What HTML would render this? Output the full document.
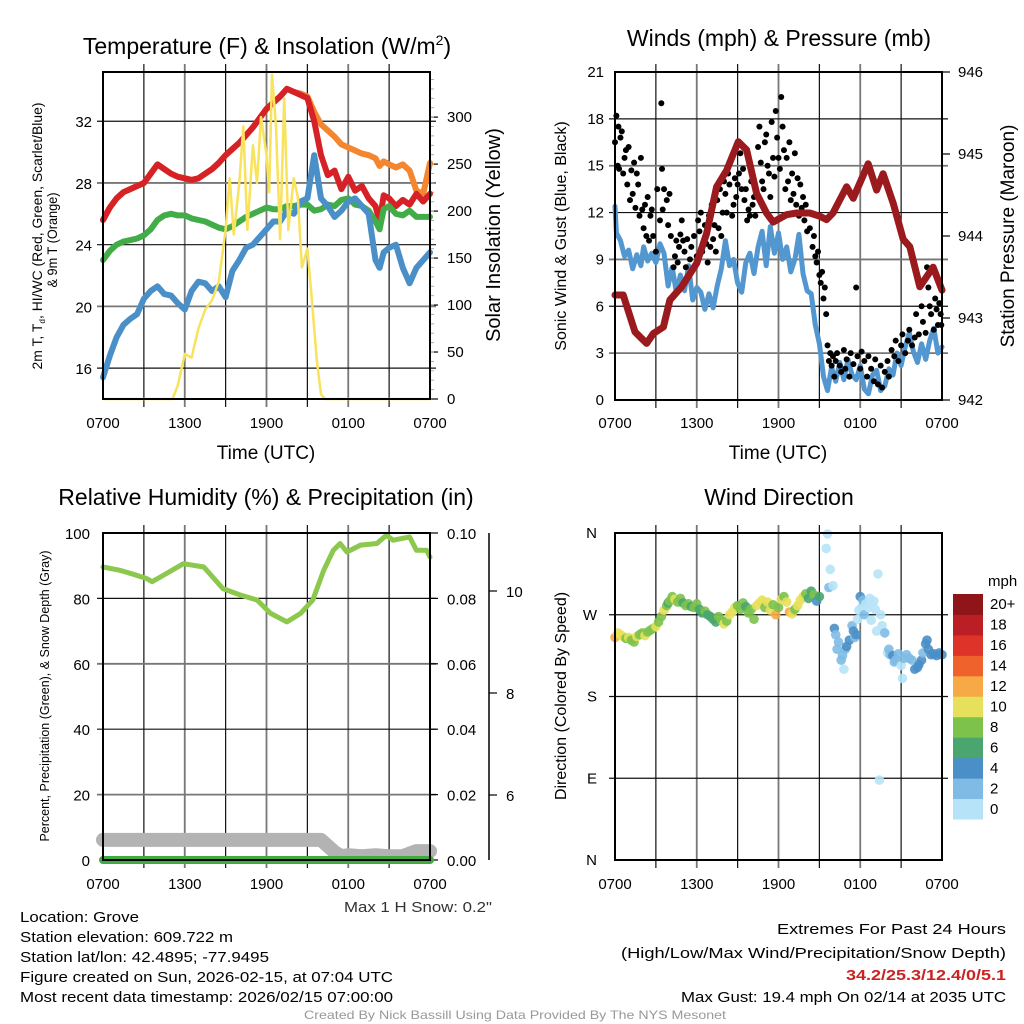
<!DOCTYPE html>
<html><head><meta charset="utf-8"><title>NYS Mesonet Meteogram - Grove</title>
<style>
html,body{margin:0;padding:0;background:#fff;}
svg{display:block;font-family:"Liberation Sans",sans-serif;}
.tk{font-size:15px;fill:#000;}
.nar{font-family:"Liberation Sans Narrow","Liberation Sans",sans-serif;}
</style></head>
<body>
<svg id="fig" width="1024" height="1024" viewBox="0 0 1024 1024" xmlns="http://www.w3.org/2000/svg">
<rect x="0" y="0" width="1024" height="1024" fill="#fff"/>
<text x="267" y="54" font-size="23" text-anchor="middle">Temperature (F) &amp; Insolation (W/m<tspan dy="-9" font-size="14">2</tspan><tspan dy="9">)</tspan></text>
<text x="779" y="46" font-size="23" text-anchor="middle">Winds (mph) &amp; Pressure (mb)</text>
<text x="266" y="505" font-size="23" text-anchor="middle">Relative Humidity (%) &amp; Precipitation (in)</text>
<text x="779" y="505" font-size="23" text-anchor="middle">Wind Direction</text>

<text x="266" y="459" font-size="19" text-anchor="middle">Time (UTC)</text>
<text x="778" y="459" font-size="19" text-anchor="middle">Time (UTC)</text>

<text transform="translate(42,236) rotate(-90)" font-size="13.5" text-anchor="middle" textLength="267" lengthAdjust="spacingAndGlyphs">2m T, T<tspan font-size="8" dy="3">d</tspan><tspan dy="-3">, HI/WC (Red, Green, Scarlet/Blue)</tspan></text>
<text transform="translate(57,240) rotate(-90)" font-size="13.5" text-anchor="middle" textLength="95" lengthAdjust="spacingAndGlyphs">&amp; 9m T (Orange)</text>
<text transform="translate(500,235) rotate(-90)" font-size="20" text-anchor="middle">Solar Insolation (Yellow)</text>
<text transform="translate(566,236) rotate(-90)" font-size="16" text-anchor="middle">Sonic Wind &amp; Gust (Blue, Black)</text>
<text transform="translate(1014,236) rotate(-90)" font-size="19" text-anchor="middle">Station Pressure (Maroon)</text>
<text transform="translate(49,696) rotate(-90)" font-size="12.5" text-anchor="middle">Percent, Precipitation (Green), &amp; Snow Depth (Gray)</text>
<text transform="translate(566,696) rotate(-90)" font-size="16" text-anchor="middle">Direction (Colored By Speed)</text>

<g class="nar" font-size="15">
<text x="492" y="912" text-anchor="end" textLength="148" lengthAdjust="spacingAndGlyphs" fill="#333">Max 1 H Snow: 0.2"</text>
<text x="20" y="922" textLength="119" lengthAdjust="spacingAndGlyphs">Location: Grove</text>
<text x="20" y="942" textLength="213" lengthAdjust="spacingAndGlyphs">Station elevation: 609.722 m</text>
<text x="20" y="962" textLength="249" lengthAdjust="spacingAndGlyphs">Station lat/lon: 42.4895; -77.9495</text>
<text x="20" y="982" textLength="373" lengthAdjust="spacingAndGlyphs">Figure created on Sun, 2026-02-15, at 07:04 UTC</text>
<text x="20" y="1002" textLength="373" lengthAdjust="spacingAndGlyphs">Most recent data timestamp: 2026/02/15 07:00:00</text>
<text x="1006" y="934" text-anchor="end" textLength="229" lengthAdjust="spacingAndGlyphs">Extremes For Past 24 Hours</text>
<text x="1006" y="958" text-anchor="end" textLength="385" lengthAdjust="spacingAndGlyphs">(High/Low/Max Wind/Precipitation/Snow Depth)</text>
<text x="1006" y="980" text-anchor="end" textLength="160" lengthAdjust="spacingAndGlyphs" fill="#cc2222" font-weight="bold">34.2/25.3/12.4/0/5.1</text>
<text x="1006" y="1002" text-anchor="end" textLength="325" lengthAdjust="spacingAndGlyphs">Max Gust: 19.4 mph On 02/14 at 2035 UTC</text>
<text x="515" y="1019" font-size="12" text-anchor="middle" textLength="422" lengthAdjust="spacingAndGlyphs" fill="#999">Created By Nick Bassill Using Data Provided By The NYS Mesonet</text>
</g>
<g id="plots"></g>
</svg>
<script>
// ---------- data ----------
const timeLabels = ["0700","1300","1900","0100","0700"];
const tempHours = [0,0.5,1,1.5,2,2.5,3,3.5,4,4.5,5,5.5,6,6.5,7,7.5,8,8.5,9,9.5,10,10.5,11,11.5,12,12.5,13,13.5,14,14.5,15,15.5,16,16.5,17,17.5,18,18.5,19,19.5,20,20.3,20.6,21,21.5,22,22.5,23,23.5,24];
const tempRed = [25.6,26.4,27.0,27.4,27.6,27.8,28.0,28.6,29.2,28.9,28.6,28.4,28.3,28.2,28.3,28.6,28.9,29.3,29.8,30.2,30.6,31.1,31.6,32.2,32.8,33.2,33.6,34.1,33.9,33.7,33.5,32.0,29.8,28.5,28.8,27.6,28.4,27.5,27.8,27.0,26.5,25.5,27.2,27.0,26.5,26.9,26.6,27.3,26.8,27.3];
const tempOrange = [25.6,26.4,27.0,27.4,27.6,27.8,28.0,28.6,29.2,28.9,28.6,28.4,28.3,28.2,28.3,28.6,28.9,29.3,29.8,30.2,30.6,31.1,31.6,32.2,32.8,33.2,33.6,34.1,33.9,33.8,33.6,32.6,31.8,31.4,31.0,30.5,30.3,30.1,29.9,29.8,29.6,29.1,29.4,29.2,29.0,29.2,28.8,27.5,27.3,29.3];
const tempGreen = [23.0,23.6,24.0,24.2,24.3,24.4,24.6,25.0,25.6,25.9,26.0,25.9,25.9,25.7,25.6,25.5,25.3,25.1,25.0,25.2,25.5,25.8,26.0,26.2,26.4,26.3,26.3,26.5,26.5,26.6,26.6,26.2,26.3,26.6,26.5,26.9,27.0,26.6,26.5,26.2,25.5,25.0,26.3,26.5,26.0,25.9,26.2,25.8,25.8,25.8];
const tempBlue = [15.4,16.8,18.0,18.8,19.2,19.5,20.5,21.0,21.3,20.8,20.7,20.2,19.8,21.0,21.6,21.5,21.0,21.3,20.6,22.3,23.0,23.8,24.0,24.5,25.0,25.5,25.5,26.2,26.0,26.8,27.0,29.8,27.0,26.5,25.8,26.2,26.8,27.0,26.5,26.0,23.0,22.5,23.5,23.8,24.0,22.5,21.5,22.5,23.0,23.5];
const solarHours = [0,5.1,5.5,6,6.5,7,7.5,8,8.5,9,9.3,9.6,10,10.3,10.6,11,11.3,11.6,12,12.2,12.4,12.7,13,13.3,13.6,14,14.3,14.6,15,15.3,15.7,16,16.3,24];
const solarValues = [0,0,15,48,44,75,95,105,125,180,235,175,230,290,180,270,230,300,260,220,345,290,170,320,180,235,215,140,160,110,40,5,0,0];
const presHours = [0,0.6,1.47,2.32,2.81,3.55,4.03,4.89,6.0,6.72,7.46,8.19,9.05,9.66,10.39,11.12,11.61,12.59,13.33,14.3,15.04,15.53,16.0,17.0,17.48,18.58,19.2,19.68,20.42,21.15,21.64,22.37,23.35,24.0];
const presValues = [943.28,943.28,942.83,942.69,942.81,942.89,943.22,943.38,943.67,944.03,944.60,944.80,945.15,945.05,944.52,944.28,944.17,944.26,944.28,944.28,944.24,944.20,944.28,944.60,944.46,944.88,944.56,944.76,944.40,943.96,943.87,943.38,943.62,943.34];
const windHours = [0,0.1,0.4,0.7,1.0,1.3,1.6,1.9,2.1,2.4,2.7,3.0,3.3,3.6,3.9,4.2,4.5,4.8,5.1,5.4,5.7,6.0,6.3,6.6,6.9,7.2,7.5,7.8,8.1,8.4,8.7,9.0,9.3,9.6,9.9,10.2,10.5,10.8,11.1,11.4,11.7,12.0,12.3,12.6,12.9,13.2,13.5,13.8,14.1,14.4,14.7,15.0,15.3,15.6,15.9,16.2,16.5,16.8,17.1,17.4,17.7,18.0,18.3,18.6,18.9,19.2,19.5,19.8,20.1,20.4,20.7,21.0,21.3,21.6,21.9,22.2,22.5,22.8,23.1,23.4,23.7,24.0];
const windValues = [12.4,10.7,10.2,9.2,9.6,8.4,9.3,8.6,9.8,8.9,9.4,8.8,10.0,9.4,7.3,8.5,6.9,8.0,7.0,8.6,6.4,7.2,6.9,5.8,6.8,5.9,7.3,8.4,10.2,8.6,9.0,7.5,6.9,8.8,9.4,8.1,9.8,10.8,8.6,11.1,9.4,10.7,9.0,9.8,8.2,9.0,10.6,8.1,7.0,6.8,4.8,3.6,1.5,0.6,2.1,1.2,2.4,1.3,2.6,1.6,1.3,2.2,0.7,0.4,1.6,1.9,0.6,0.9,2.0,1.6,3.0,2.2,3.4,4.3,3.1,2.4,3.6,2.6,3.8,4.6,3.0,3.4];
const gustHours = [0.0,0.1,0.2,0.25,0.3,0.4,0.5,0.6,0.7,0.8,0.9,1.0,1.1,1.2,1.3,1.4,1.5,1.6,1.7,1.8,1.9,2.0,2.1,2.2,2.3,2.4,2.5,2.6,2.7,2.8,3.0,3.1,3.4,3.3,3.45,3.5,3.6,3.8,3.9,4.0,4.1,4.3,4.4,4.5,4.6,4.7,4.8,4.9,5.0,5.1,5.2,5.3,5.5,5.6,5.8,6.0,6.1,6.2,6.3,6.4,6.6,6.7,6.8,6.9,7.0,7.1,7.2,7.3,7.4,7.5,7.6,7.7,7.8,7.9,8.0,8.1,8.2,8.3,8.4,8.6,8.7,8.8,8.9,9.0,9.1,9.2,9.3,9.4,9.5,9.6,9.7,9.8,9.9,10.0,10.1,10.2,10.3,10.5,10.6,10.7,10.8,10.9,11.0,11.1,11.2,11.3,11.4,11.5,11.6,11.7,11.8,11.9,12.0,12.1,12.2,12.3,12.4,12.5,12.6,12.7,12.8,12.9,13.0,13.1,13.2,13.3,13.4,13.5,13.6,13.7,13.8,13.9,14.0,14.1,14.2,14.3,14.5,14.6,14.7,14.8,14.9,15.0,15.1,15.2,15.3,15.4,15.5,15.6,15.7,15.8,15.9,16.0,16.1,16.2,16.3,16.5,16.6,16.8,16.9,17.0,17.2,17.3,17.5,17.7,17.8,18.0,18.1,18.3,18.5,18.6,18.8,19.0,19.1,19.3,19.5,19.6,19.8,20.0,20.1,20.3,20.5,20.6,20.8,21.0,21.1,21.3,21.5,21.6,21.8,22.0,22.1,22.3,22.5,22.6,22.8,22.9,23.0,23.1,23.2,23.4,23.5,23.6,23.7,23.8,23.9,24.0,23.95];
const gustValues = [16.5,18.2,15.0,17.5,14.8,16.8,17.2,14.5,15.5,16.0,13.8,16.2,12.8,14.7,13.2,15.2,12.3,14.5,13.8,11.8,15.5,12.2,11.0,12.5,10.5,13.0,10.2,11.8,12.2,10.5,9.5,13.5,19.0,11.5,14.8,12.2,13.5,12.8,11.2,13.2,10.5,8.5,9.2,10.2,8.8,9.8,10.6,11.5,10.2,9.5,8.5,10.3,9.0,9.8,10.5,9.2,11.5,10.8,12.0,9.5,11.2,10.0,8.8,11.8,9.8,12.5,10.3,11.2,9.5,12.8,11.0,13.5,10.5,12.0,14.0,13.2,12.0,14.5,13.8,11.8,12.5,14.2,13.0,13.8,14.5,15.8,13.5,14.8,12.8,13.5,11.5,12.2,11.8,14.0,12.5,13.0,11.8,16.2,17.5,15.2,14.0,13.5,16.5,17.0,15.0,14.5,13.0,17.8,15.5,14.3,18.5,16.8,15.5,14.8,19.4,17.5,16.0,13.5,15.5,14.0,16.5,12.8,14.5,13.2,15.8,12.5,14.2,11.8,13.8,12.3,13.0,11.5,12.5,10.8,12.0,11.0,9.8,10.5,9.2,8.8,9.5,8.0,7.5,8.2,6.5,7.2,5.5,3.5,2.5,3.0,2.2,2.8,1.5,2.5,3.0,2.2,1.8,3.2,2.0,2.6,1.5,3.0,2.3,7.2,2.8,2.0,3.1,2.5,1.5,2.8,2.0,1.2,2.6,1.0,2.2,0.8,1.8,2.5,1.5,3.2,2.8,3.8,2.5,3.5,4.2,3.0,3.8,4.5,3.5,4.0,5.5,4.2,6.0,5.0,4.3,8.5,7.2,6.0,5.5,4.5,6.5,5.8,4.8,6.2,5.5,7.0,4.8];
const dirHours = [0.0,0.2,0.4,0.6,0.8,1.0,1.2,1.4,1.6,1.8,2.0,2.2,2.4,2.6,2.8,3.0,3.2,3.4,3.6,3.8,3.9,4.0,4.2,4.4,4.6,4.8,5.0,5.2,5.4,5.6,5.8,6.0,6.2,6.4,6.6,6.8,7.0,7.2,7.4,7.6,7.8,8.0,8.2,8.4,8.6,8.8,9.0,9.2,9.4,9.6,9.8,10.0,10.2,10.4,10.6,10.8,11.0,11.2,11.4,11.6,11.8,12.0,12.2,12.4,12.6,12.8,13.0,13.2,13.4,13.6,13.8,14.0,14.2,14.4,14.6,14.8,15.0,15.5,15.6,15.7,15.8,16.0,16.1,16.2,16.3,16.4,16.6,16.7,16.8,16.9,17.0,17.2,17.4,17.5,17.6,17.7,17.8,17.9,18.0,18.1,18.2,18.3,18.4,18.6,18.7,18.8,19.0,19.1,19.2,19.3,19.4,19.5,19.6,19.8,20.0,20.1,20.2,20.4,20.5,20.6,20.8,21.0,21.1,21.2,21.4,21.6,21.8,22.0,22.2,22.3,22.5,22.6,22.8,22.9,23.0,23.2,23.4,23.6,23.8,24.0];
const dirDegrees = [245,250,248,246,244,245,242,240,246,248,250,247,251,253,255,257,262,268,275,280,283,285,290,287,284,288,283,280,282,279,278,282,276,272,274,270,268,265,262,268,264,260,263,270,273,278,280,276,283,279,272,276,265,280,283,286,278,284,275,281,270,278,287,290,284,273,271,276,280,286,290,293,288,296,292,285,290,343,359,300,320,302,255,248,232,240,220,225,210,232,235,242,258,252,245,248,265,275,290,278,286,270,282,278,288,264,285,276,252,315,88,270,258,250,228,232,226,225,218,220,227,214,200,222,226,222,220,210,212,215,220,228,238,242,232,226,227,225,228,226];
const dirSpeeds = [12,10,10,10,8,10,8,8,10,8,8,10,8,8,8,10,8,8,10,8,6,8,8,10,8,8,6,8,8,6,8,8,6,6,8,6,6,6,6,8,8,10,8,10,10,10,8,8,8,6,8,8,8,10,10,10,8,10,10,8,12,8,10,8,10,12,10,8,10,10,10,8,6,6,8,4,6,0,0,2,0,0,4,2,2,2,2,2,0,2,4,4,2,4,2,4,0,0,4,0,2,2,0,0,0,0,0,0,0,0,0,0,0,2,0,2,2,4,2,2,2,0,0,2,2,2,2,4,4,4,4,2,4,4,4,4,4,4,4,4];
const rhHours = [0,1.25,2.2,3.2,3.6,4.4,5.9,7.4,8.8,10.1,11.3,12.3,13.5,14.5,15.4,16.2,16.9,17.4,17.9,18.9,20.1,20.8,21.3,22.5,23.0,23.75,24];
const rhValues = [89.6,88.6,87.4,86.1,85.1,87.0,90.6,89.6,83.0,81.0,79.5,75.4,72.8,75.4,79.5,88.6,94.7,96.8,94.2,96.3,96.8,99.3,97.8,98.8,94.7,94.7,92.6];
const snowHours = [0,16.0,16.5,17.0,17.5,18.0,19.0,20.0,21.0,22.0,22.5,23.0,24.0];
const snowDepth = [5.12,5.12,5.0,4.88,4.8,4.82,4.8,4.82,4.8,4.8,4.85,4.9,4.9];
const precipHours = [0,24];
const precipValues = [0,0];
const tempTicks = [16,20,24,28,32];
const solarTicks = [0,50,100,150,200,250,300];
const windTicks = [0,3,6,9,12,15,18,21];
const presTicks = [942,943,944,945,946];
const rhTicks = [0,20,40,60,80,100];
const precipTicks = ["0.00","0.02","0.04","0.06","0.08","0.10"];
const snowTicks = [6,8,10];
const dirTicks = ["N","E","S","W","N"];
const speedBins = ["0","2","4","6","8","10","12","14","16","18","20+"];
const speedColors = ["#b6e3f8","#7fbbe4","#4a8fc7","#4aa56f","#7cc24b","#e7e05a","#f6a945","#f0622b","#dd3329","#bb1e25","#8f1519"];

// ---------- helpers ----------
const NS="http://www.w3.org/2000/svg";
const root=document.getElementById('plots');
function mk(tag,attrs,parent){const e=document.createElementNS(NS,tag);for(const k in attrs)e.setAttribute(k,attrs[k]);(parent||root).appendChild(e);return e;}
function linScale(d0,d1,r0,r1){return v=>r0+(v-d0)*(r1-r0)/(d1-d0);}
function pathD(xs,ys,fx,fy){return xs.map((h,i)=>(i?'L':'M')+fx(h).toFixed(1)+','+fy(ys[i]).toFixed(1)).join('');}

function frame(name){
  const g=mk('g',{});
  
  
  return g;
}
function vgrid(g,L,R,T,B){
  for(let i=1;i<8;i++){const x=L+(R-L)*i/8;
    const ln=mk('line',{x1:x,x2:x,y1:T-8,y2:B+8,stroke:i%2?'#111':'#777','stroke-width':i%2?1.2:1.8},g);
    
    }
}
function xlabels(g,L,R,y){
  timeLabels.forEach((t,i)=>{const x=L+(R-L)*i/4;
    const tx=mk('text',{x:x,y:y,'text-anchor':'middle',class:'tk'},g);tx.textContent=t;
    
    });
}
function box(g,L,T,R,B){
  const r=mk('rect',{x:L,y:T,width:R-L,height:B-T,fill:'none',stroke:'#000','stroke-width':2},g);
  
  
}
function hgrid(g,L,R,y,dark){
  const ln=mk('line',{x1:L-6,x2:R+6,y1:y,y2:y,stroke:dark?'#111':'#777','stroke-width':dark?1.2:1.8},g);
  
  
}
function label(g,x,y,txt,anchor,name,size){
  const t=mk('text',{x:x,y:y,'text-anchor':anchor,class:'tk'},g);
  if(size)t.setAttribute('font-size',size);
  t.textContent=txt;
  
  
  return t;
}
function line(g,xs,ys,fx,fy,color,w,name){
  const p=mk('path',{d:pathD(xs,ys,fx,fy),fill:'none',stroke:color,'stroke-width':w,'stroke-linejoin':'round','stroke-linecap':'round'},g);
  
  
  return p;
}

// ---------- Panel 1: Temperature ----------
(function(){
  const L=103,R=430,T=72,B=399;
  const g=frame('temperature-panel');
  const fx=linScale(0,24,L,R), fy=linScale(14,35.19,B,T), fs=linScale(0,348,B,T);
  vgrid(g,L,R,T,B);
  tempTicks.forEach((v,i)=>{hgrid(g,L,R,fy(v),i%2==0);label(g,L-11,fy(v)+6,String(v),'end','temp-y-tick-label',17);});
  solarTicks.forEach(v=>{const tk=mk('line',{x1:R,x2:R+8,y1:fs(v),y2:fs(v),stroke:'#000','stroke-width':1.2},g);
    
    
    label(g,R+17,fs(v)+5,String(v),'start','solar-y-tick-label',15);});
  for(let v=10;v<348;v+=10){const tk=mk('line',{x1:R,x2:R+4,y1:fs(v),y2:fs(v),stroke:'#aaa','stroke-width':1},g);
    
    }
  line(g,tempHours,tempOrange,fx,fy,'#f4862f',6,'9m-temperature-line');
  line(g,tempHours,tempRed,fx,fy,'#d62226',6,'2m-temperature-line');
  line(g,tempHours,tempGreen,fx,fy,'#42ad48',6,'dewpoint-line');
  line(g,tempHours,tempBlue,fx,fy,'#4a8fc7',6,'wind-chill-line');
  line(g,solarHours,solarValues,fx,fs,'#f9e25c',2.5,'solar-insolation-line');
  box(g,L,T,R,B);
  xlabels(g,L,R,428);
})();

// ---------- Panel 2: Winds ----------
(function(){
  const L=615,R=942,T=72,B=400;
  const g=frame('winds-panel');
  const fx=linScale(0,24,L,R), fy=linScale(0,21,B,T), fp=linScale(942,946,B,T);
  vgrid(g,L,R,T,B);
  windTicks.forEach((v,i)=>{if(v>0&&v<21)hgrid(g,L,R,fy(v),i%2==0);label(g,L-11,fy(v)+5,String(v),'end','wind-y-tick-label',15);});
  presTicks.forEach(v=>{const tk=mk('line',{x1:R,x2:R+8,y1:fp(v),y2:fp(v),stroke:'#000','stroke-width':1.2},g);
    
    
    label(g,R+16,fp(v)+5,String(v),'start','pressure-y-tick-label',15);});
  line(g,windHours,windValues,fx,fy,'#5297d0',5,'sonic-wind-line');
  gustHours.forEach((h,i)=>{const c=mk('circle',{cx:fx(h),cy:fy(gustValues[i]),r:3,fill:'#000'},g);
    
    });
  line(g,presHours,presValues,fx,fp,'#9a1a1d',7,'station-pressure-line');
  box(g,L,T,R,B);
  xlabels(g,L,R,428);
})();

// ---------- Panel 3: Humidity ----------
(function(){
  const L=103,R=430,T=533,B=860;
  const g=frame('humidity-panel');
  const fx=linScale(0,24,L,R), fy=linScale(0,100,B,T), fsn=linScale(6,10,795,591);
  vgrid(g,L,R,T,B);
  rhTicks.forEach((v,i)=>{if(v>0&&v<100)hgrid(g,L,R,fy(v),i%2==0);label(g,L-13,fy(v)+6,String(v),'end','humidity-y-tick-label',16);});
  precipTicks.forEach((v,i)=>{const y=fy(i*20);const tk=mk('line',{x1:R,x2:R+8,y1:y,y2:y,stroke:'#000','stroke-width':1.2},g);
    
    
    label(g,R+17,y+6,v,'start','precip-y-tick-label',16);});
  const ax=mk('line',{x1:489,x2:489,y1:T,y2:B,stroke:'#000','stroke-width':1.5},g);
  
  
  snowTicks.forEach(v=>{const tk=mk('line',{x1:489,x2:497,y1:fsn(v),y2:fsn(v),stroke:'#000','stroke-width':1.2},g);
    
    
    label(g,506,fsn(v)+6,String(v),'start','snow-y-tick-label',16);});
  line(g,snowHours,snowDepth,fx,fsn,'#b3b3b3',14,'snow-depth-line');
  line(g,precipHours,precipValues,fx,fy,'#3faa40',8,'precipitation-line');
  line(g,rhHours,rhValues,fx,fy,'#8cc84e',5,'relative-humidity-line');
  box(g,L,T,R,B);
  xlabels(g,L,R,889);
})();

// ---------- Panel 4: Wind Direction ----------
(function(){
  const L=615,R=942,T=533,B=860;
  const g=frame('wind-direction-panel');
  const fx=linScale(0,24,L,R), fy=linScale(0,360,B,T);
  vgrid(g,L,R,T,B);
  dirTicks.forEach((v,i)=>{const y=fy(i*90);if(i>0&&i<4)hgrid(g,L,R,y,true);label(g,L-18,y+5,v,'end','direction-y-tick-label',15);});
  dirHours.forEach((h,i)=>{const c=mk('circle',{cx:fx(h),cy:fy(dirDegrees[i]),r:4.8,fill:speedColors[Math.min(10,Math.round(dirSpeeds[i]/2))],'fill-opacity':0.9},g);
    
    });
  box(g,L,T,R,B);
  xlabels(g,L,R,889);
  const lg=mk('g',{},g);
  
  
  const bh=225/11;
  speedBins.forEach((b,i)=>{const y=819-(i+1)*bh;
    const r=mk('rect',{x:953,y:y,width:30,height:bh+0.5,fill:speedColors[i]},lg);
    
    
    label(lg,990,y+bh/2+5,b,'start','colorbar-label',14);});
  label(lg,988,586,'mph','start','colorbar-title',14);
})();
</script>
</body></html>
